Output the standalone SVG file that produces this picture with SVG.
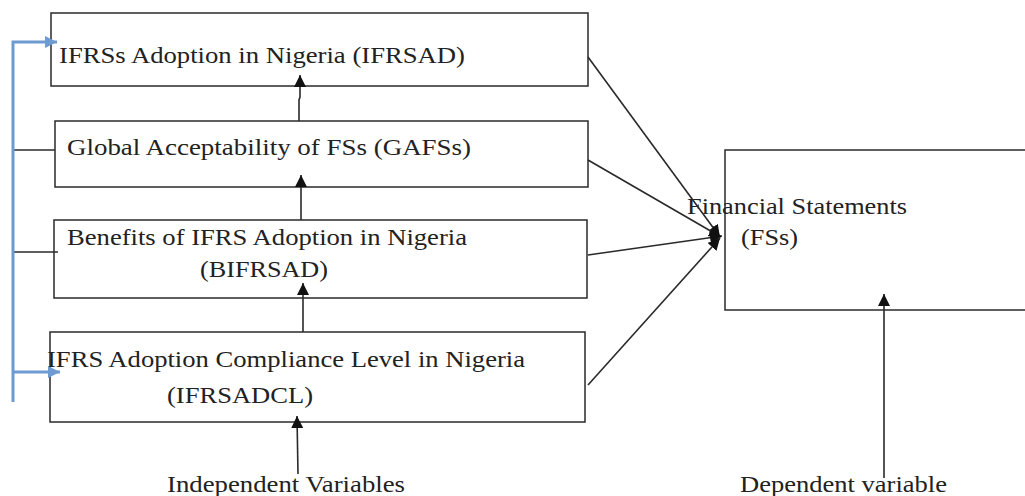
<svg xmlns="http://www.w3.org/2000/svg" width="1025" height="496" viewBox="0 0 1025 496">
<style>
.box{fill:#fff;stroke:#2a2a2a;stroke-width:1.5}
.t{font-family:'Liberation Serif','Times New Roman',Times,serif;font-size:24px;fill:#222}
.ln{stroke:#2a2a2a;stroke-width:1.6;fill:none}
.bl{stroke:#6d9ad0;stroke-width:3;fill:none}
</style>
<defs>
<marker id="ah" viewBox="0 0 12 12" refX="12" refY="6" markerWidth="12" markerHeight="12" markerUnits="userSpaceOnUse" orient="auto">
<path d="M0,0 L12,6 L0,12 z" fill="#111"/>
</marker>
<marker id="ahb" viewBox="0 0 12 12" refX="12" refY="6" markerWidth="12" markerHeight="12" markerUnits="userSpaceOnUse" orient="auto">
<path d="M0,0 L12,6 L0,12 z" fill="#6d9ad0"/>
</marker>
</defs>
<g id="fs">
<rect class="box" x="725" y="150" width="310" height="160"/>
</g>
<g id="n1">
<rect class="box" x="51" y="13" width="537" height="73"/>
<text class="t" font-family="Liberation Serif, serif" x="59" y="63" textLength="406" lengthAdjust="spacingAndGlyphs">IFRSs Adoption in Nigeria (IFRSAD)</text>
</g>
<g id="n2">
<rect class="box" x="55" y="121" width="533" height="66"/>
<text class="t" font-family="Liberation Serif, serif" x="67" y="155" textLength="404" lengthAdjust="spacingAndGlyphs">Global Acceptability of FSs (GAFSs)</text>
</g>
<g id="n3">
<rect class="box" x="54" y="220" width="533" height="78"/>
<text class="t" font-family="Liberation Serif, serif" x="67" y="245" textLength="400" lengthAdjust="spacingAndGlyphs">Benefits of IFRS Adoption in Nigeria</text>
<text class="t" font-family="Liberation Serif, serif" x="200" y="277" textLength="128" lengthAdjust="spacingAndGlyphs">(BIFRSAD)</text>
</g>
<g id="n4">
<rect class="box" x="50" y="332" width="535" height="90"/>
<text class="t" font-family="Liberation Serif, serif" x="47" y="367" textLength="478" lengthAdjust="spacingAndGlyphs">IFRS Adoption Compliance Level in Nigeria</text>
<text class="t" font-family="Liberation Serif, serif" x="167" y="403" textLength="146" lengthAdjust="spacingAndGlyphs">(IFRSADCL)</text>
</g>
<g id="fs-label">
<text class="t" font-family="Liberation Serif, serif" x="687" y="214" textLength="220" lengthAdjust="spacingAndGlyphs">Financial Statements</text>
<text class="t" font-family="Liberation Serif, serif" x="741" y="245" textLength="57" lengthAdjust="spacingAndGlyphs">(FSs)</text>
</g>
<g id="connectors">
<path class="ln" d="M299,121 L299,100 L300,97 L300,75" marker-end="url(#ah)"/>
<path class="ln" d="M301,220 L301,175" marker-end="url(#ah)"/>
<path class="ln" d="M303,332 L303,283" marker-end="url(#ah)"/>
<path class="ln" d="M298,474 L297,416" marker-end="url(#ah)"/>
<path class="ln" d="M884,478 L884,294" marker-end="url(#ah)"/>
<path class="ln" d="M588,57 L720,237" marker-end="url(#ah)"/>
<path class="ln" d="M588,160 L721,237" marker-end="url(#ah)"/>
<path class="ln" d="M588,255 L722,236" marker-end="url(#ah)"/>
<path class="ln" d="M588,385 L720,238" marker-end="url(#ah)"/>
<path class="ln" d="M13,150 L55,150"/>
<path class="ln" d="M13,252 L58,252"/>
<path class="bl" d="M13,402 L13,42 L57,42" marker-end="url(#ahb)"/>
<path class="bl" d="M13,372 L60,372" marker-end="url(#ahb)"/>
</g>
<g id="footer">
<text class="t" font-family="Liberation Serif, serif" x="167" y="492" textLength="238" lengthAdjust="spacingAndGlyphs">Independent Variables</text>
<text class="t" font-family="Liberation Serif, serif" x="740" y="492" textLength="207" lengthAdjust="spacingAndGlyphs">Dependent variable</text>
</g>
</svg>
